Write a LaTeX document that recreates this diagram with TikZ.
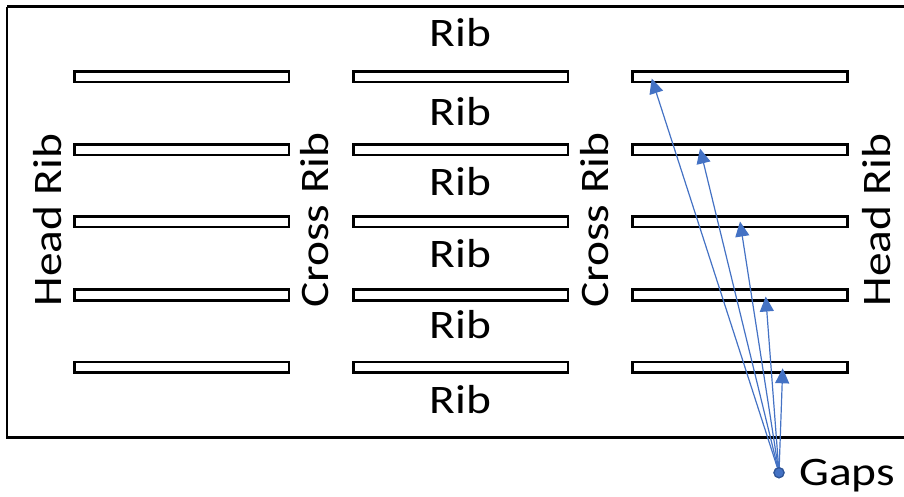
\documentclass[tikz,border=0pt]{standalone}
\usepackage{fontspec}
\setmainfont{Carlito}
\usetikzlibrary{arrows.meta}
\definecolor{arrowblue}{HTML}{4472C4}
\definecolor{dotblue}{HTML}{2F5597}
\newcommand{\wtxt}[1]{\scalebox{1.17}[1]{#1}}
\begin{document}
\begin{tikzpicture}[x=1pt,y=-1pt,
  slotbox/.style={draw=black,line width=2.6pt,fill=white,minimum width=214.6pt,minimum height=10.6pt,inner sep=0pt,outer sep=0pt},
  lbl/.style={font=\fontsize{40.5}{44}\selectfont,inner sep=0pt,anchor=base},
  vlbl/.style={lbl,rotate=90},
  gapdot/.style={circle,fill=arrowblue,draw=dotblue,line width=1.2pt,minimum size=10pt,inner sep=0pt},
  gaparrow/.style={draw=arrowblue,line width=1.2pt,-{Triangle[length=15pt,width=14pt]}}]
\useasboundingbox (0,0) rectangle (904,496);
\draw[line width=2.6pt] (7,6.5) -- (912,6.5) (7,6.5) -- (7,437.5) -- (912,437.5);
% slots
\foreach \c/\x in {1/181.5,2/460.5,3/740}{
  \foreach \r/\y in {1/76.6,2/149.6,3/221.6,4/295,5/367.2}{
    \node[slotbox] (s\c\r) at (\x,\y) {};
  }
}
% horizontal labels
\node[lbl] (r1) at (460.5,46.7) {\wtxt{Rib}};
\node[lbl] (r2) at (460.5,125) {\wtxt{Rib}};
\node[lbl] (r3) at (460.5,195.5) {\wtxt{Rib}};
\node[lbl] (r4) at (460.5,267) {\wtxt{Rib}};
\node[lbl] (r5) at (460.5,338.5) {\wtxt{Rib}};
\node[lbl] (r6) at (460.5,413) {\wtxt{Rib}};
% vertical labels
\node[vlbl] (hl) at (61.5,220) {\wtxt{Head Rib}};
\node[vlbl] (cl) at (328.5,220) {\wtxt{Cross Rib}};
\node[vlbl] (cr) at (608,220) {\wtxt{Cross Rib}};
\node[vlbl] (hr) at (890,220) {\wtxt{Head Rib}};
% gaps
\node[gapdot] (g) at (779,472.7) {};
\node[lbl,anchor=base west] (gt) at (799,485) {\wtxt{Gaps}};
\coordinate (t1) at (651.7,78.5);
\coordinate (t2) at (700,148.5);
\coordinate (t3) at (740,221.5);
\coordinate (t4) at (765.7,296.5);
\coordinate (t5) at (782.7,368.3);
\foreach \i in {1,...,5}{
  \draw[gaparrow] (g.center) -- (t\i);
}
\node[gapdot] at (g) {};
\end{tikzpicture}
\end{document}
